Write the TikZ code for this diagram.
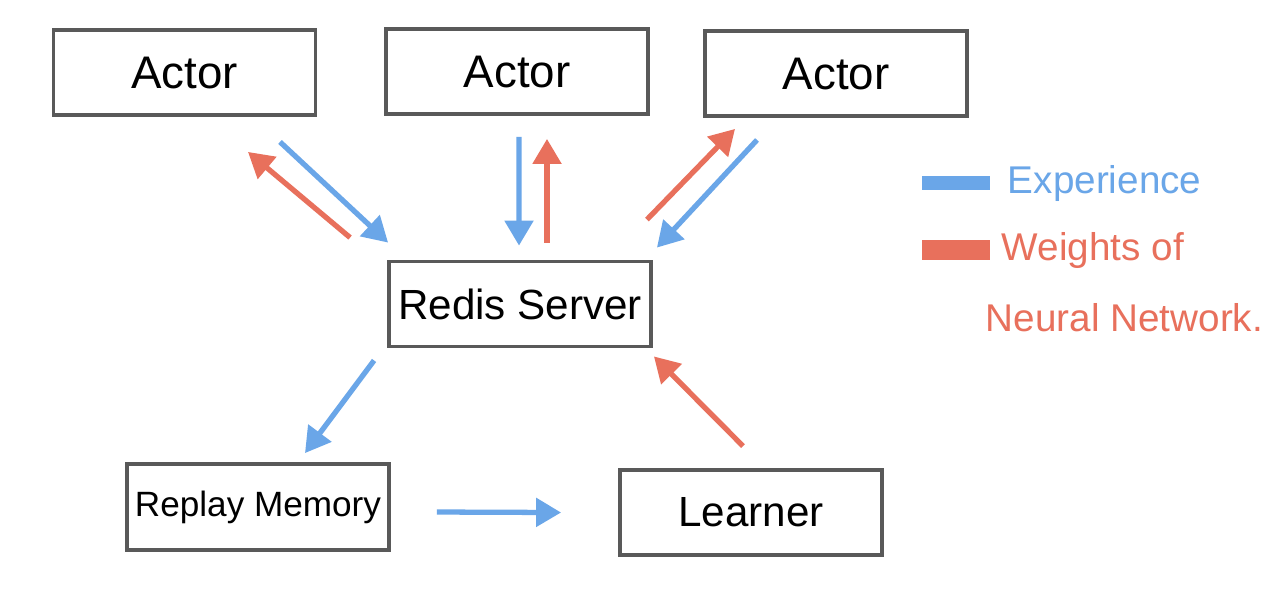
\documentclass[tikz,border=0pt]{standalone}
\usepackage{fontspec}
\setmainfont{Liberation Sans}
\usetikzlibrary{arrows.meta,positioning}
\definecolor{expblue}{RGB}{106,166,232}
\definecolor{wred}{RGB}{232,112,92}
\begin{document}
\begin{tikzpicture}[line width=0.55pt,
    box/.style={draw=black!65, line width=1.1pt, minimum width=2.62cm, minimum height=0.85cm, inner sep=0pt},
    exp/.style={draw=expblue, line width=1.5pt, -{Triangle[length=2.5mm,width=2.8mm]}},
    wgt/.style={draw=wred, line width=1.5pt, -{Triangle[length=2.5mm,width=2.8mm]}},
    leg/.style={font=\fontsize{11}{13}\selectfont, inner sep=0pt}]
  \useasboundingbox[fill=white] (0,0) rectangle (12.8,5.99);
  \node[box, font=\fontsize{13}{15}\selectfont] (actorA) at (1.845,5.265) {Actor};
  \node[box, font=\fontsize{13}{15}\selectfont] (actorB) at (5.17,5.275) {Actor};
  \node[box, font=\fontsize{13}{15}\selectfont] (actorC) at (8.36,5.255) {Actor};
  \node[box, font=\fontsize{12}{14}\selectfont] (redis) at (5.20,2.95) {Redis Server};
  \node[box, minimum height=0.86cm, font=\fontsize{10}{12}\selectfont] (replay) at (2.58,0.92) {Replay Memory};
  \node[box, font=\fontsize{12}{14}\selectfont] (learner) at (7.51,0.865) {Learner};
  % actors <-> redis
  \draw[exp] ([shift={(0.955,-0.25)}]actorA.south) -- ([shift={(0.01,0.17)}]redis.north west);
  \draw[wgt] ([shift={(-0.37,0.22)}]redis.north west) -- ([shift={(0.635,-0.35)}]actorA.south);
  \draw[exp] ([shift={(0.02,-0.21)}]actorB.south) -- ([shift={(-0.01,0.14)}]redis.north);
  \draw[wgt] ([shift={(0.27,0.17)}]redis.north) -- ([shift={(0.30,-0.23)}]actorB.south);
  \draw[wgt] ([shift={(-0.06,0.40)}]redis.north east) -- ([shift={(-1.01,-0.11)}]actorC.south);
  \draw[exp] ([shift={(-0.79,-0.22)}]actorC.south) -- ([shift={(0.04,0.12)}]redis.north east);
  % redis -> replay -> learner -> redis
  \draw[exp] ([shift={(-0.13,-0.12)}]redis.south west) -- ([shift={(0.47,0.09)}]replay.north);
  \draw[exp] ([shift={(0.46,-0.05)}]replay.east) -- ([shift={(-0.57,0)}]learner.west);
  \draw[wgt] ([shift={(-0.08,0.22)}]learner.north) -- ([shift={(0.01,-0.08)}]redis.south east);
  % legend
  \node[fill=expblue, minimum width=0.68cm, minimum height=0.14cm, inner sep=0pt] (legE) at (9.56,4.16) {};
  \node[leg, right=0.16cm of legE, text=expblue] (legEtxt) {Experience};
  \node[fill=wred, minimum width=0.68cm, minimum height=0.2cm, inner sep=0pt] (legW) at (9.56,3.49) {};
  \node[leg, right=0.1cm of legW, text=wred] (legWtxt) {Weights of};
  \node[leg, anchor=west, text=wred] (legWtxt2) at (9.85,2.81) {Neural Network.};
\end{tikzpicture}
\end{document}
